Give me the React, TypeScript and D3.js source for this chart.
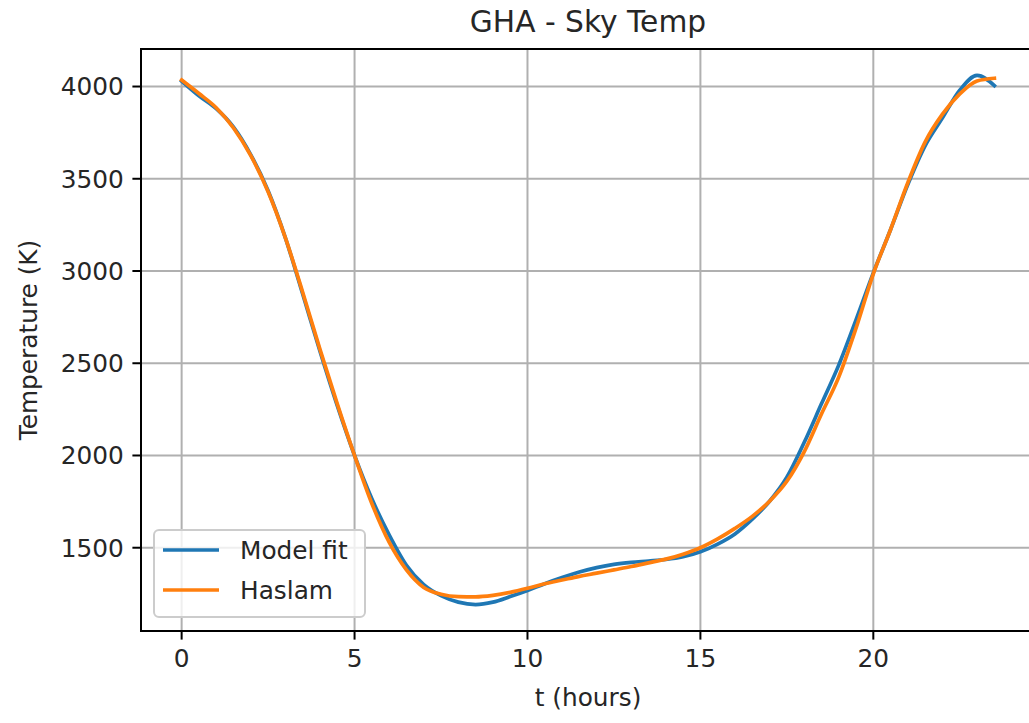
import React from "react";
import * as d3 from "d3";

// Hours after GHA 0 (half-hour steps)
const hours = [
  0, 0.5, 1, 1.5, 2, 2.5, 3, 3.5, 4, 4.5, 5, 5.5, 6, 6.5, 7, 7.5, 8, 8.5, 9, 9.5,
  10, 10.5, 11, 11.5, 12, 12.5, 13, 13.5, 14, 14.5, 15, 15.5, 16, 16.5, 17, 17.5,
  18, 18.5, 19, 19.5, 20, 20.5, 21, 21.5, 22, 22.5, 23, 23.5,
];

// Sky temperature (K) from the fitted model
const modelFit = [
  4030, 3950, 3880, 3780, 3630, 3435, 3180, 2875, 2565, 2270, 2000, 1765, 1570,
  1405, 1300, 1240, 1205, 1192, 1205, 1235, 1268, 1305, 1338, 1368, 1392, 1410,
  1421, 1428, 1436, 1451, 1478, 1520, 1575, 1655, 1752, 1882, 2070, 2280, 2490,
  2735, 2990, 3225, 3470, 3680, 3830, 3980, 4060, 4005,
];

// Sky temperature (K) from the Haslam map
const haslam = [
  4035, 3962, 3885, 3775, 3625, 3430, 3180, 2885, 2575, 2280, 2000, 1740, 1530,
  1380, 1285, 1248, 1235, 1234, 1242, 1258, 1280, 1305, 1325, 1345, 1362, 1380,
  1398, 1418, 1438, 1465, 1500, 1548, 1605, 1670, 1752, 1860, 2020, 2225, 2425,
  2690, 2985, 3225, 3480, 3700, 3850, 3960, 4030, 4045,
];

const xTicks = [0, 5, 10, 15, 20];
const yTicks = [1500, 2000, 2500, 3000, 3500, 4000];

const W = 1029;
const H = 723;
const left = 141;
const right = 1035;
const top = 49;
const bottom = 631;

const FONT = "DejaVu Sans, sans-serif";
const tickFont = 24.8;
const grid = "#b0b0b0";
const blue = "#1f77b4";
const orange = "#ff7f0e";

function padded(ext: [number, number]): [number, number] {
  const span = ext[1] - ext[0];
  return [ext[0] - 0.05 * span, ext[1] + 0.05 * span];
}

export default function App() {
  const xExt = d3.extent(hours) as [number, number];
  const yExt = d3.extent([...modelFit, ...haslam]) as [number, number];
  const x = d3.scaleLinear().domain(padded(xExt)).range([left, right]);
  const y = d3.scaleLinear().domain(padded(yExt)).range([bottom, top]);

  const line = d3
    .line<number>()
    .x((_, i) => x(hours[i]))
    .y((d) => y(d))
    .curve(d3.curveMonotoneX);

  const tickLen = 8.6;
  const pad = 8.6;

  return (
    <div style={{ position: "absolute", left: 0, top: 0 }}>
      <svg width={W} height={H} style={{ display: "block", background: "#fff" }} fontFamily={FONT}>
        <defs>
          <clipPath id="plot">
            <rect x={left} y={top} width={right - left} height={bottom - top} />
          </clipPath>
        </defs>

        {/* grid */}
        {xTicks.map((t) => (
          <line key={"gx" + t} x1={x(t)} x2={x(t)} y1={top} y2={bottom} stroke={grid} strokeWidth={2} />
        ))}
        {yTicks.map((t) => (
          <line key={"gy" + t} x1={left} x2={right} y1={y(t)} y2={y(t)} stroke={grid} strokeWidth={2} />
        ))}

        {/* series */}
        <g clipPath="url(#plot)" fill="none" strokeWidth={3.7} strokeLinejoin="round" strokeLinecap="square">
          <path d={line(modelFit) ?? ""} stroke={blue} />
          <path d={line(haslam) ?? ""} stroke={orange} />
        </g>

        {/* spines */}
        <rect x={left} y={top} width={right - left} height={bottom - top} fill="none" stroke="#000" strokeWidth={2} />

        {/* x ticks */}
        {xTicks.map((t) => (
          <g key={"xt" + t}>
            <line x1={x(t)} x2={x(t)} y1={bottom} y2={bottom + tickLen} stroke="#000" strokeWidth={2} />
            <text x={x(t)} y={bottom + tickLen + pad + 19} textAnchor="middle" fontSize={tickFont} fill="#262626">
              {t}
            </text>
          </g>
        ))}

        {/* y ticks */}
        {yTicks.map((t) => (
          <g key={"yt" + t}>
            <line x1={left - tickLen} x2={left} y1={y(t)} y2={y(t)} stroke="#000" strokeWidth={2} />
            <text x={left - tickLen - pad} y={y(t)} dy="0.36em" textAnchor="end" fontSize={tickFont} fill="#262626">
              {t}
            </text>
          </g>
        ))}

        {/* labels */}
        <text x={(left + right) / 2} y={32} textAnchor="middle" fontSize={29.7} fill="#262626">
          GHA - Sky Temp
        </text>
        <text x={(left + right) / 2} y={706} textAnchor="middle" fontSize={tickFont} fill="#262626">
          t (hours)
        </text>
        <text
          transform={`translate(37, ${(top + bottom) / 2}) rotate(-90)`}
          textAnchor="middle"
          fontSize={tickFont}
          fill="#262626"
        >
          Temperature (K)
        </text>

        {/* legend */}
        <g>
          <rect x={154} y={530} width={211} height={87} rx={5} fill="#fff" fillOpacity={0.8} stroke="#cccccc" strokeWidth={2} />
          <line x1={163} x2={219} y1={550} y2={550} stroke={blue} strokeWidth={3.7} />
          <line x1={163} x2={219} y1={590} y2={590} stroke={orange} strokeWidth={3.7} />
          <text x={240} y={559} fontSize={tickFont} fill="#262626">Model fit</text>
          <text x={240} y={599} fontSize={tickFont} fill="#262626">Haslam</text>
        </g>
      </svg>
    </div>
  );
}
